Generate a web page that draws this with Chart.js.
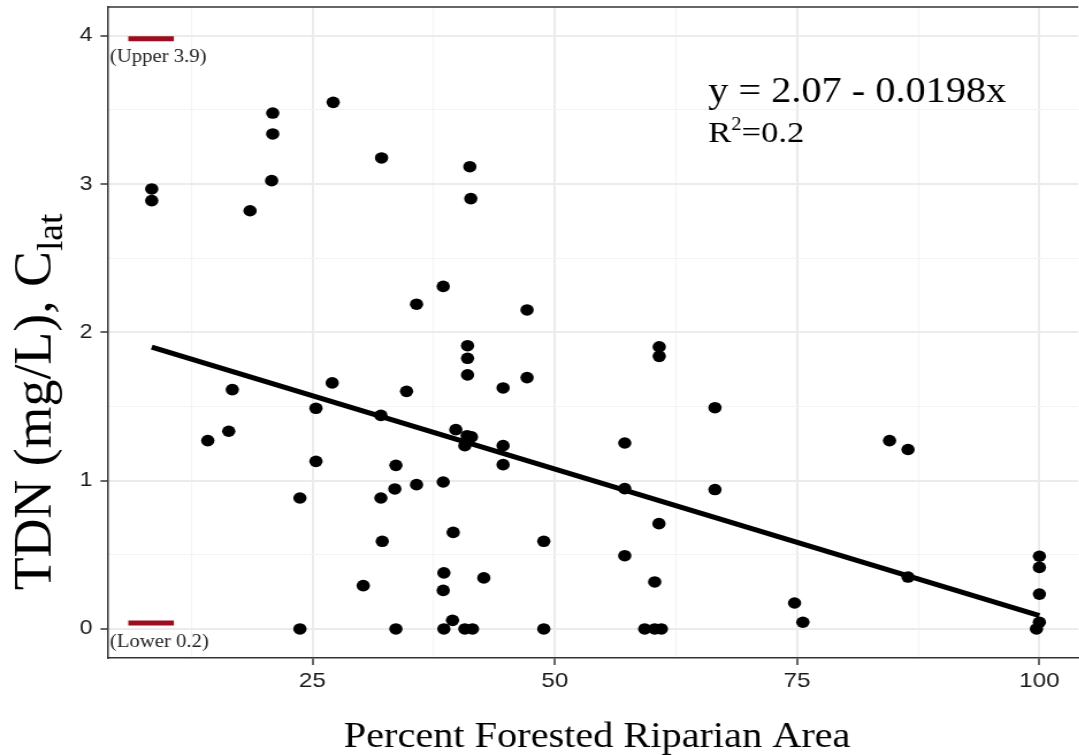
<!DOCTYPE html>
<html>
<head>
<meta charset="utf-8">
<script src="https://cdn.jsdelivr.net/npm/chart.js@4.4.1/dist/chart.umd.min.js"></script>
<style>
  html, body { margin: 0; padding: 0; background: #fff; overflow: hidden; }
</style>
</head>
<body>
<!-- the reference is stretched horizontally by ~1.15, so the canvas is drawn narrow and widened by css.
     chart.js keeps 5px free on the right; the extra width runs past the window so the panel reaches the edge -->
<canvas id="chart" width="943" height="755" style="display:block;width:1085px;height:755px;"></canvas>
<script>
// percent forested riparian area vs. TDN lateral concentration
const forestPct = [
  8.42, 8.42, 14.2, 16.36, 16.73, 18.56, 20.79, 20.9, 20.9, 23.71,
  23.71, 25.36, 25.36, 27.04, 27.14, 30.24, 32.06, 32.06, 32.13, 32.2,
  33.61, 33.5, 33.61, 34.71, 35.74, 35.74, 38.49, 38.49, 38.56, 38.49,
  38.56, 39.45, 39.52, 39.79, 40.72, 40.96, 41.41, 41.0, 41.0, 41.0,
  40.72, 41.51, 41.24, 41.34, 42.68, 44.67, 44.67, 44.67, 47.14, 47.14,
  48.87, 48.87, 57.22, 57.22, 57.22, 59.28, 60.31, 60.31, 60.75, 60.78,
  60.78, 61.0, 66.53, 66.53, 74.74, 75.6, 84.54, 86.45, 86.45, 100,
  100, 100, 100, 99.7
];
const tdn = [
  2.967, 2.888, 1.27, 1.333, 1.614, 2.82, 3.023, 3.338, 3.479, 0.883,
  0.0, 1.488, 1.13, 1.659, 3.551, 0.292, 1.44, 0.883, 3.176, 0.591,
  1.103, 0.944, 0.0, 1.602, 2.19, 0.973, 2.31, 0.991, 0.378, 0.26,
  0.0, 0.058, 0.651, 1.344, 1.236, 1.303, 1.295, 1.91, 1.825, 1.713,
  0.0, 0.0, 3.117, 2.902, 0.344, 1.625, 1.236, 1.108, 2.151, 1.695,
  0.591, 0.0, 1.254, 0.946, 0.494, 0.0, 0.317, 0.0, 0.71, 1.902,
  1.838, 0.0, 1.492, 0.94, 0.175, 0.045, 1.27, 1.21, 0.35, 0.49,
  0.415, 0.235, 0.045, 0.0
];

// fitted line ends, as drawn
const fitX = [8.42, 100];
const fitY = [1.90, 0.09];

// upper / lower limit marks
const limitX = [6.0, 10.7];
const upperY = [3.98, 3.98];
const lowerY = [0.04, 0.04];

const xMajorTicks = [25, 50, 75, 100];
const xMinorTicks = [12.5, 37.5, 62.5, 87.5];
const yMajorTicks = [0, 1, 2, 3, 4];
const yMinorTicks = [0.5, 1.5, 2.5, 3.5];

const pts = (xs, ys) => xs.map((x, i) => ({ x: x, y: ys[i] }));

const gridFor = (majors, tickLen) => ({
  color: (c) => majors.includes(c.tick.value) ? '#ebebeb' : '#f3f3f3',
  lineWidth: (c) => majors.includes(c.tick.value) ? 2 : 1,
  tickColor: (c) => majors.includes(c.tick.value) ? '#333333' : 'rgba(0,0,0,0)',
  tickLength: tickLen,
  tickWidth: 1.5
});

const textPlugin = {
  id: 'texts',
  afterDraw(chart) {
    const ctx = chart.ctx;
    const area = chart.chartArea;
    ctx.save();

    // top border of the panel
    ctx.strokeStyle = '#333333';
    ctx.lineWidth = 1.5;
    ctx.beginPath();
    ctx.moveTo(area.left, area.top);
    ctx.lineTo(area.right, area.top);
    ctx.stroke();

    ctx.fillStyle = '#000';
    ctx.textAlign = 'left';
    ctx.textBaseline = 'alphabetic';

    // equation
    ctx.font = '35px "Liberation Serif"';
    ctx.fillText('y = 2.07 - 0.0198x', 615.5, 102);

    // R squared
    let x = 615.5;
    ctx.font = '30px "Liberation Serif"';
    ctx.fillText('R', x, 142);
    x += ctx.measureText('R').width;
    ctx.font = '18px "Liberation Serif"';
    ctx.fillText('2', x, 130);
    x += ctx.measureText('2').width;
    ctx.font = '30px "Liberation Serif"';
    ctx.fillText('=0.2', x, 142);

    // limit labels
    ctx.fillStyle = '#222';
    ctx.font = '18px "Liberation Serif"';
    ctx.fillText('(Upper 3.9)', 95.6, 61.5);
    ctx.fillText('(Lower 0.2)', 95.6, 647);

    // x title
    ctx.fillStyle = '#000';
    ctx.font = '35px "Liberation Serif"';
    ctx.textAlign = 'center';
    ctx.fillText('Percent Forested Riparian Area', 519, 747);

    // y title with subscript
    const size = 46;
    ctx.textAlign = 'left';
    ctx.translate(43.5, 402);
    ctx.rotate(-Math.PI / 2);
    ctx.scale(1.17, 1);
    ctx.font = size + 'px "Liberation Serif"';
    const mainW = ctx.measureText('TDN (mg/L), C').width;
    ctx.font = Math.round(size * 0.7) + 'px "Liberation Serif"';
    const subW = ctx.measureText('lat').width;
    const start = -(mainW + subW) / 2;
    ctx.font = size + 'px "Liberation Serif"';
    ctx.fillText('TDN (mg/L), C', start, 0);
    ctx.font = Math.round(size * 0.7) + 'px "Liberation Serif"';
    ctx.fillText('lat', start + mainW, size * 0.22);

    ctx.restore();
  }
};

new Chart(document.getElementById('chart'), {
  type: 'scatter',
  data: {
    datasets: [
      {
        label: 'fit',
        type: 'line',
        data: pts(fitX, fitY),
        borderColor: '#000',
        borderWidth: 5,
        pointRadius: 0,
        fill: false,
        order: 0
      },
      {
        label: 'sites',
        data: pts(forestPct, tdn),
        backgroundColor: '#000',
        borderColor: '#000',
        borderWidth: 0,
        pointRadius: 5.8,
        order: 1
      },
      {
        label: 'upper',
        type: 'line',
        data: pts(limitX, upperY),
        borderColor: '#9c0d20',
        borderWidth: 5,
        borderCapStyle: 'butt',
        pointRadius: 0,
        order: 2
      },
      {
        label: 'lower',
        type: 'line',
        data: pts(limitX, lowerY),
        borderColor: '#9c0d20',
        borderWidth: 5,
        borderCapStyle: 'butt',
        pointRadius: 0,
        order: 2
      }
    ]
  },
  options: {
    responsive: false,
    devicePixelRatio: 1,
    animation: false,
    layout: { padding: { top: 7, right: 0, left: 0, bottom: 0 } },
    plugins: {
      legend: { display: false },
      tooltip: { enabled: false }
    },
    scales: {
      x: {
        type: 'linear',
        min: 3.84,
        max: 104.02,
        afterBuildTicks: (s) => { s.ticks = [...xMinorTicks, ...xMajorTicks].sort((a, b) => a - b).map(v => ({ value: v })); },
        afterFit: (s) => { s.height = 97; s.paddingLeft = 0; s.paddingRight = 0; },
        ticks: {
          autoSkip: false,
          maxRotation: 0,
          padding: 4,
          color: '#1a1a1a',
          font: { family: '"Liberation Sans", Arial, sans-serif', size: 21 },
          callback: (v) => xMajorTicks.includes(v) ? String(v) : ''
        },
        grid: gridFor(xMajorTicks, 7),
        border: { display: true, color: '#333333', width: 1.5 }
      },
      y: {
        type: 'linear',
        min: -0.196,
        max: 4.194,
        afterBuildTicks: (s) => { s.ticks = [...yMinorTicks, ...yMajorTicks].sort((a, b) => a - b).map(v => ({ value: v })); },
        afterFit: (s) => { s.width = 93.3; s.paddingTop = 0; s.paddingBottom = 0; },
        ticks: {
          autoSkip: false,
          padding: 7,
          color: '#1a1a1a',
          font: { family: '"Liberation Sans", Arial, sans-serif', size: 20 },
          callback: (v) => yMajorTicks.includes(v) ? String(v) : ''
        },
        grid: gridFor(yMajorTicks, 6),
        border: { display: true, color: '#333333', width: 1.5 }
      }
    }
  },
  plugins: [textPlugin]
});
</script>
</body>
</html>
